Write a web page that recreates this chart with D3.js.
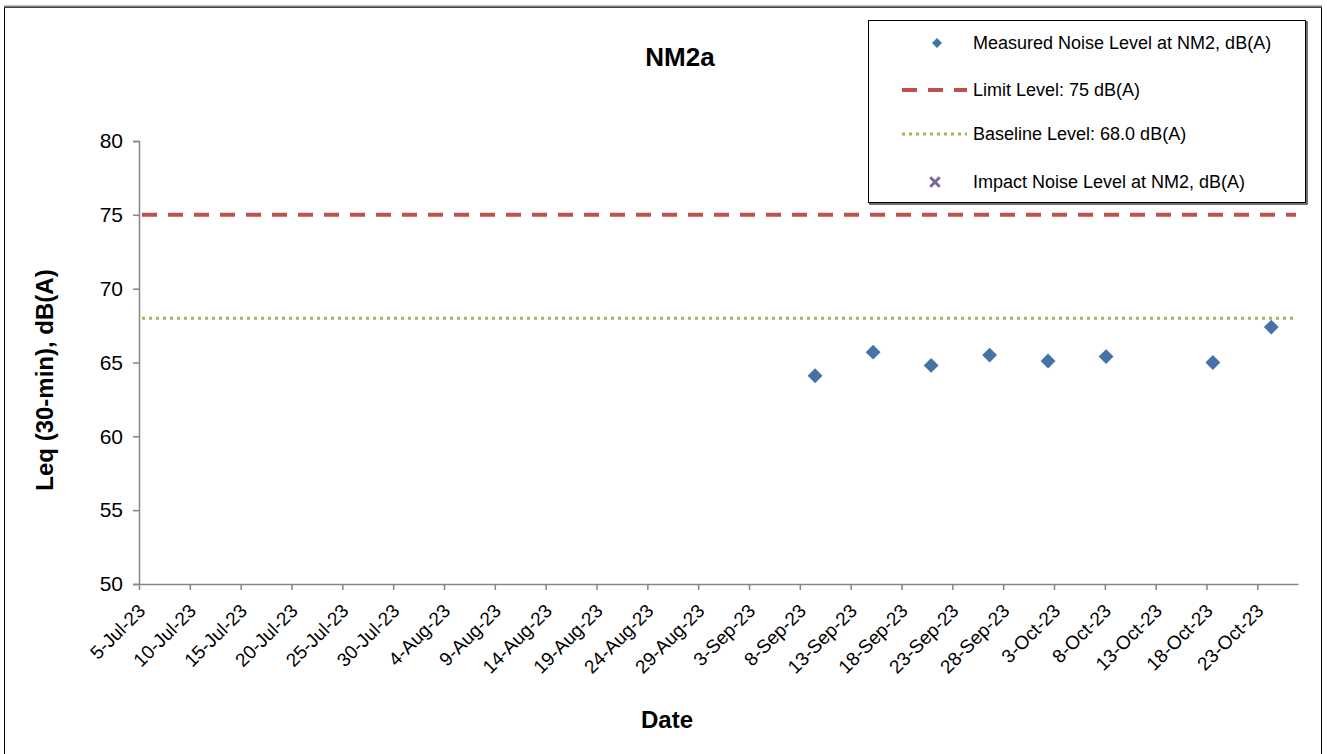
<!DOCTYPE html>
<html>
<head>
<meta charset="utf-8">
<script src="https://cdn.jsdelivr.net/npm/d3@7"></script>
<style>
  html, body { margin: 0; padding: 0; background: #fff; }
  svg { display: block; font-family: "Liberation Sans", Arial, sans-serif; }
</style>
</head>
<body>
<svg id="chart" width="1327" height="754"></svg>
<script>
// ---- data ----
const chartTitle = "NM2a";
const xTitle = "Date";
const yTitle = "Leq (30-min), dB(A)";
const measuredDates = ["2023-09-09 12:00", "2023-09-15 05:00", "2023-09-20 22:00", "2023-09-26 16:00",
                       "2023-10-02 10:00", "2023-10-08 03:00", "2023-10-18 15:00", "2023-10-24 09:00"];
const measuredValues = [64.1, 65.7, 64.8, 65.5, 65.1, 65.4, 65.0, 67.4];
const limitLevel = 75;
const baselineLevel = 68.0;
const xTickLabels = ["5-Jul-23","10-Jul-23","15-Jul-23","20-Jul-23","25-Jul-23","30-Jul-23","4-Aug-23",
  "9-Aug-23","14-Aug-23","19-Aug-23","24-Aug-23","29-Aug-23","3-Sep-23","8-Sep-23","13-Sep-23",
  "18-Sep-23","23-Sep-23","28-Sep-23","3-Oct-23","8-Oct-23","13-Oct-23","18-Oct-23","23-Oct-23"];
const xDomain = ["2023-07-05", "2023-10-27"];
const yTicks = [50, 55, 60, 65, 70, 75, 80];
const legendLabels = ["Measured Noise Level at NM2, dB(A)", "Limit Level: 75 dB(A)",
                      "Baseline Level: 68.0 dB(A)", "Impact Noise Level at NM2, dB(A)"];

// ---- setup ----
const svg = d3.select("#chart");
const parseDT = d3.timeParse("%Y-%m-%d %H:%M");
const parseD = d3.timeParse("%Y-%m-%d");
const parseTick = d3.timeParse("%e-%b-%y");

const x = d3.scaleTime().domain(xDomain.map(parseD)).range([139, 1298]);
const y = d3.scaleLinear().domain([50, 80]).range([584, 141]);

const axisColor = "#868686";
const blue = "#4572A7", red = "#C0504D", green = "#9BBB59", purple = "#8064A2";

// outer frame
svg.append("rect").attr("x", 4.5).attr("y", 7.5).attr("width", 1317).attr("height", 760)
  .attr("fill", "none").attr("stroke", "#000").attr("stroke-width", 1);
svg.append("line").attr("x1", 4).attr("x2", 1322).attr("y1", 6.5).attr("y2", 6.5)
  .attr("stroke", "#808080").attr("stroke-width", 2);

// title
svg.append("text").attr("x", 680).attr("y", 66).attr("text-anchor", "middle")
  .attr("font-size", 26).attr("font-weight", "bold").text(chartTitle);

// y axis
const yAxis = svg.append("g").attr("transform", "translate(139,0)")
  .call(d3.axisLeft(y).tickValues(yTicks).tickSize(6).tickPadding(10).tickFormat(d3.format("d")));
yAxis.select(".domain").attr("stroke", axisColor).attr("stroke-width", 1.5);
yAxis.selectAll(".tick line").attr("stroke", axisColor).attr("stroke-width", 1.5);
yAxis.selectAll(".tick text").attr("font-size", 21).attr("fill", "#000")
  .attr("font-family", "Liberation Sans, Arial, sans-serif");

// x axis
const tickDates = xTickLabels.map(parseTick);
const xAxis = svg.append("g").attr("transform", "translate(0,584)")
  .call(d3.axisBottom(x).tickValues(tickDates).tickSize(6).tickSizeOuter(0)
    .tickFormat((d, i) => xTickLabels[i]));
xAxis.select(".domain").attr("stroke", axisColor).attr("stroke-width", 1.5);
xAxis.selectAll(".tick line").attr("stroke", axisColor).attr("stroke-width", 1.5);
xAxis.selectAll(".tick text")
  .attr("font-size", 19).attr("fill", "#000")
  .attr("font-family", "Liberation Sans, Arial, sans-serif")
  .attr("text-anchor", "end").attr("dy", null).attr("y", null)
  .attr("transform", "translate(7,28) rotate(-45)");

// axis titles
svg.append("text").attr("x", 667).attr("y", 728).attr("text-anchor", "middle")
  .attr("font-size", 24).attr("font-weight", "bold").text(xTitle);
svg.append("text").attr("transform", "translate(53,380) rotate(-90)").attr("text-anchor", "middle")
  .attr("font-size", 24).attr("font-weight", "bold").text(yTitle);

// reference lines
svg.append("line").attr("x1", x.range()[0] + 3).attr("x2", x.range()[1] - 2)
  .attr("y1", y(limitLevel)).attr("y2", y(limitLevel))
  .attr("stroke", red).attr("stroke-width", 4).attr("stroke-dasharray", "15,11");
svg.append("line").attr("x1", x.range()[0] + 3).attr("x2", x.range()[1] - 2)
  .attr("y1", y(baselineLevel)).attr("y2", y(baselineLevel))
  .attr("stroke", green).attr("stroke-width", 3).attr("stroke-dasharray", "3,4");

// measured points
const diamond = d3.symbol().type(d3.symbolSquare).size(110);
svg.append("g").selectAll("path").data(measuredValues).join("path")
  .attr("d", diamond)
  .attr("transform", (d, i) => `translate(${x(parseDT(measuredDates[i]))},${y(d)}) rotate(45)`)
  .attr("fill", blue);

// legend
const lg = svg.append("g");
lg.append("rect").attr("x", 870).attr("y", 22).attr("width", 437).attr("height", 182)
  .attr("fill", "none").attr("stroke", "#404040").attr("stroke-width", 1.5);
lg.append("rect").attr("x", 868.5).attr("y", 20.5).attr("width", 437).attr("height", 182)
  .attr("fill", "#fff").attr("stroke", "#000").attr("stroke-width", 1);
const rowY = [43, 90, 134, 182];
lg.append("path").attr("d", d3.symbol().type(d3.symbolSquare).size(50))
  .attr("transform", `translate(937,${rowY[0]}) rotate(45)`).attr("fill", blue);
lg.append("line").attr("x1", 902).attr("x2", 967).attr("y1", rowY[1]).attr("y2", rowY[1])
  .attr("stroke", red).attr("stroke-width", 4).attr("stroke-dasharray", "15,11");
lg.append("line").attr("x1", 902).attr("x2", 967).attr("y1", rowY[2]).attr("y2", rowY[2])
  .attr("stroke", green).attr("stroke-width", 3).attr("stroke-dasharray", "3,4");
lg.append("path").attr("d", d3.symbol().type(d3.symbolX).size(60))
  .attr("transform", `translate(935,${rowY[3]})`).attr("fill", "none")
  .attr("stroke", purple).attr("stroke-width", 3);
lg.selectAll("text.lbl").data(legendLabels).join("text").attr("class", "lbl")
  .attr("x", 973).attr("y", (d, i) => rowY[i]).attr("dy", "0.35em")
  .attr("font-size", 18).text(d => d);
</script>
</body>
</html>
